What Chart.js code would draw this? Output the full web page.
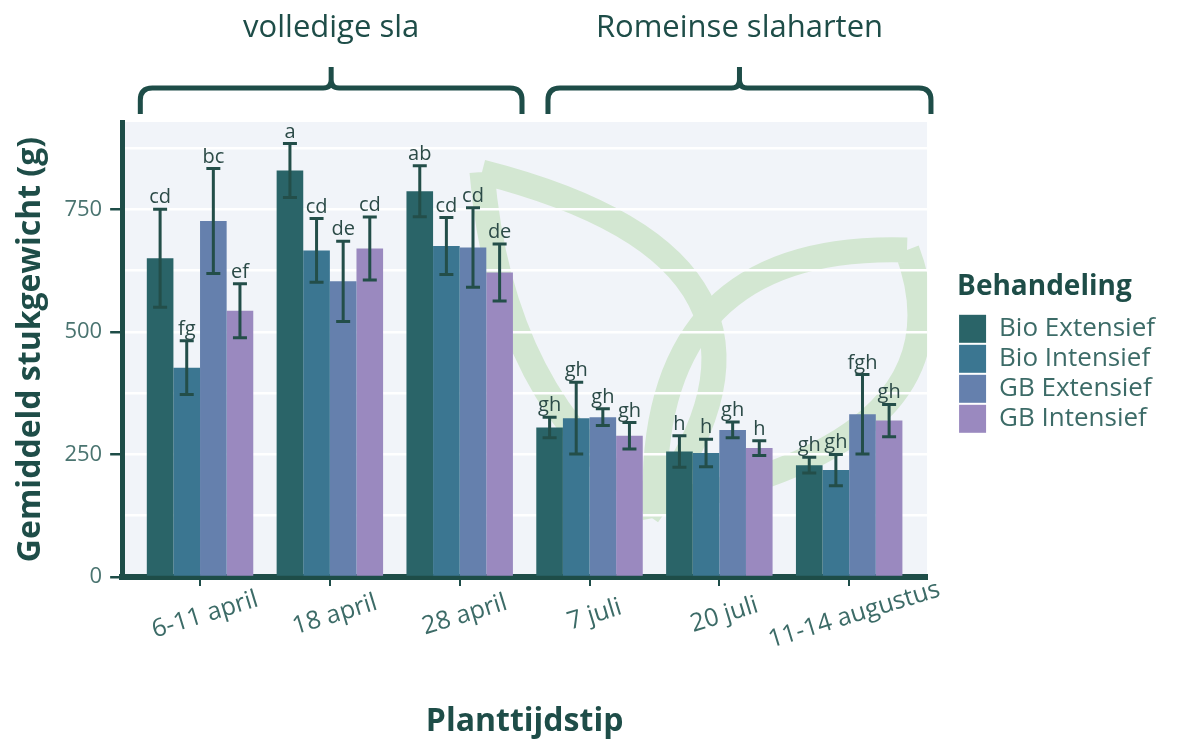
<!DOCTYPE html>
<html>
<head>
<meta charset="utf-8">
<script src="https://cdn.jsdelivr.net/npm/chart.js@4.4.1/dist/chart.umd.min.js"></script>
<style>
  html, body { margin: 0; padding: 0; background: #ffffff; }
  #wrap { width: 1189px; height: 742px; position: relative; }
</style>
</head>
<body>
<div id="wrap"><canvas id="graphStukgewicht"></canvas></div>
<script>
// data gelezen uit de figuur
const plantDates = ['6-11 april', '18 april', '28 april', '7 juli', '20 juli', '11-14 augustus'];
const treatments = ['Bio Extensief', 'Bio Intensief', 'GB Extensief', 'GB Intensief'];

const bioExtensief    = [650, 829, 787, 305, 256, 228];
const bioExtensiefErr = [100, 55, 52, 21, 32, 16];
const bioExtensiefLet = ['cd', 'a', 'ab', 'gh', 'h', 'gh'];

const bioIntensief    = [427, 666, 675, 324, 253, 218];
const bioIntensiefErr = [55, 65, 58, 73, 28, 32];
const bioIntensiefLet = ['fg', 'cd', 'cd', 'gh', 'h', 'gh'];

const gbExtensief     = [726, 603, 672, 326, 300, 332];
const gbExtensiefErr  = [107, 82, 81, 17, 16, 81];
const gbExtensiefLet  = ['bc', 'de', 'cd', 'gh', 'gh', 'fgh'];

const gbIntensief     = [543, 670, 621, 288, 263, 319];
const gbIntensiefErr  = [55, 64, 58, 27, 15, 33];
const gbIntensiefLet  = ['ef', 'cd', 'de', 'gh', 'h', 'gh'];

const yTicks = [0, 250, 500, 750];
const groupLabels = ['volledige sla', 'Romeinse slaharten'];
const groupSpans = [[0.54, 3.48], [3.68, 6.63]];   // in categorie-eenheden

const colors = { bioExt: '#2a6468', bioInt: '#3b7691', gbExt: '#6580ad', gbInt: '#9a89bf' };
const dark = '#1e4d48';
const FONT = "'Open Sans', 'DejaVu Sans', sans-serif";

function toPoints(values) {
    return values.map((v, i) => ({ x: i + 1, y: v }));
}

const datasets = [
    { label: treatments[0], data: toPoints(bioExtensief), backgroundColor: colors.bioExt, err: bioExtensiefErr, letters: bioExtensiefLet },
    { label: treatments[1], data: toPoints(bioIntensief), backgroundColor: colors.bioInt, err: bioIntensiefErr, letters: bioIntensiefLet },
    { label: treatments[2], data: toPoints(gbExtensief), backgroundColor: colors.gbExt, err: gbExtensiefErr, letters: gbExtensiefLet },
    { label: treatments[3], data: toPoints(gbIntensief), backgroundColor: colors.gbInt, err: gbIntensiefErr, letters: gbIntensiefLet },
].map(d => Object.assign(d, { borderWidth: 0, categoryPercentage: 0.82, barPercentage: 1 }));

// paneel achtergrond + logo in watermerk
const panelPlugin = {
    id: 'panel',
    beforeDraw(chart) {
        const { ctx, chartArea: a } = chart;
        ctx.save();
        ctx.fillStyle = '#f1f4f9';
        ctx.fillRect(a.left, a.top, a.right - a.left, a.bottom - a.top);
        ctx.beginPath();
        ctx.rect(a.left, a.top, a.right - a.left, a.bottom - a.top);
        ctx.clip();
        ctx.strokeStyle = '#d3e7d2';
        ctx.lineWidth = 25;
        ctx.lineJoin = 'miter';
        // linker blad
        ctx.beginPath();
        ctx.moveTo(482, 172);
        ctx.quadraticCurveTo(831, 261, 655, 505);
        ctx.quadraticCurveTo(501, 401, 482, 172);
        ctx.stroke();
        // rechter blad
        ctx.beginPath();
        ctx.moveTo(907, 250);
        ctx.quadraticCurveTo(979, 442, 655, 505);
        ctx.quadraticCurveTo(649, 242, 907, 250);
        ctx.stroke();
        ctx.restore();
    }
};

// foutbalken en letters
const errorBarPlugin = {
    id: 'errorBars',
    afterDatasetsDraw(chart) {
        const { ctx } = chart;
        const y = chart.scales.y;
        ctx.save();
        chart.data.datasets.forEach((ds, di) => {
            const meta = chart.getDatasetMeta(di);
            meta.data.forEach((bar, i) => {
                const v = ds.data[i].y, e = ds.err[i];
                const yTop = y.getPixelForValue(v + e);
                const yBot = y.getPixelForValue(v - e);
                ctx.strokeStyle = '#234e49';
                ctx.lineWidth = 3;
                ctx.beginPath();
                ctx.moveTo(bar.x, yTop); ctx.lineTo(bar.x, yBot);
                ctx.moveTo(bar.x - 7, yTop); ctx.lineTo(bar.x + 7, yTop);
                ctx.moveTo(bar.x - 7, yBot); ctx.lineTo(bar.x + 7, yBot);
                ctx.stroke();
                ctx.fillStyle = '#2b4a47';
                ctx.font = '20px ' + FONT;
                ctx.textAlign = 'center';
                ctx.textBaseline = 'alphabetic';
                ctx.fillText(ds.letters[i], bar.x, yTop - 6);
            });
        });
        ctx.restore();
    }
};

function drawBrace(ctx, x1, x2, yLine, yEnd, yPeak) {
    const xm = (x1 + x2) / 2, r = 12, r2 = 8;
    ctx.beginPath();
    ctx.moveTo(x1, yEnd);
    ctx.lineTo(x1, yLine + r);
    ctx.quadraticCurveTo(x1, yLine, x1 + r, yLine);
    ctx.lineTo(xm - r2, yLine);
    ctx.quadraticCurveTo(xm, yLine, xm, yLine - r2);
    ctx.lineTo(xm, yPeak);
    ctx.moveTo(x2, yEnd);
    ctx.lineTo(x2, yLine + r);
    ctx.quadraticCurveTo(x2, yLine, x2 - r, yLine);
    ctx.lineTo(xm + r2, yLine);
    ctx.quadraticCurveTo(xm, yLine, xm, yLine - r2);
    ctx.stroke();
}

// x-labels, accolades en titels
const annotationPlugin = {
    id: 'annotations',
    afterDraw(chart) {
        const { ctx, chartArea: a } = chart;
        const x = chart.scales.x;
        ctx.save();
        ctx.fillStyle = '#3c6b67';
        ctx.font = '25px ' + FONT;
        ctx.textAlign = 'center';
        ctx.textBaseline = 'middle';
        plantDates.forEach((lab, i) => {
            const px = x.getPixelForValue(i + 1);
            ctx.save();
            ctx.translate(px + 5, a.bottom + 38);
            ctx.rotate(-17 * Math.PI / 180);
            ctx.fillText(lab, 0, 0);
            ctx.restore();
        });

        ctx.fillStyle = dark;
        ctx.font = 'bold 32px ' + FONT;
        ctx.fillText('Planttijdstip', (a.left + a.right) / 2, 722);

        ctx.strokeStyle = dark;
        ctx.lineWidth = 5;
        ctx.lineJoin = 'round';
        ctx.font = '31px ' + FONT;
        groupSpans.forEach((span, i) => {
            const x1 = x.getPixelForValue(span[0]);
            const x2 = x.getPixelForValue(span[1]);
            drawBrace(ctx, x1, x2, 88, 114, 67);
            ctx.fillText(groupLabels[i], (x1 + x2) / 2, 28);
        });
        ctx.restore();
    }
};

// legende iets naar rechts schuiven
const legendShift = {
    id: 'legendShift',
    afterLayout(chart) {
        if (chart.legend) {
            chart.legend.left += 30;
            chart.legend.right += 30;
        }
    }
};

new Chart(document.getElementById('graphStukgewicht'), {
    type: 'bar',
    data: { datasets: datasets },
    plugins: [panelPlugin, errorBarPlugin, annotationPlugin, legendShift],
    options: {
        responsive: true,
        maintainAspectRatio: false,
        animation: false,
        layout: { padding: { top: 122, left: 12, right: 54, bottom: 156 } },
        plugins: {
            tooltip: { enabled: false },
            legend: {
                position: 'right',
                align: 'center',
                title: {
                    display: true,
                    text: 'Behandeling',
                    position: 'start',
                    color: dark,
                    font: { family: FONT, size: 28, weight: 'bold' },
                    padding: { top: 0, bottom: 6 }
                },
                labels: {
                    boxWidth: 27,
                    boxHeight: 28,
                    padding: 2,
                    color: '#3c6b67',
                    font: { family: FONT, size: 26 }
                }
            }
        },
        scales: {
            x: {
                type: 'linear',
                min: 0.4,
                max: 6.6,
                offset: false,
                z: 1,
                afterBuildTicks: (scale) => { scale.ticks = plantDates.map((d, i) => ({ value: i + 1 })); },
                ticks: { display: false },
                grid: { offset: false, drawOnChartArea: false, drawTicks: true, tickLength: 9, tickColor: dark, lineWidth: 2 },
                border: { display: true, color: dark, width: 6 }
            },
            y: {
                min: 0,
                max: 928,
                afterBuildTicks: (scale) => {
                    scale.ticks = [];
                    for (let v = 0; v <= 875; v += 125) scale.ticks.push({ value: v });
                },
                ticks: {
                    color: '#4a7470',
                    padding: 8,
                    font: { family: FONT, size: 22 },
                    callback: (v) => yTicks.includes(v) ? String(v) : ''
                },
                grid: {
                    color: '#ffffff',
                    lineWidth: 2.5,
                    tickLength: 12,
                    tickColor: (c) => (c.tick && yTicks.includes(c.tick.value)) ? dark : 'rgba(0,0,0,0)'
                },
                border: { display: true, color: dark, width: 5 },
                title: {
                    display: true,
                    text: 'Gemiddeld stukgewicht (g)',
                    color: dark,
                    font: { family: FONT, size: 32, weight: 'bold' },
                    padding: { top: 0, bottom: 6 }
                }
            }
        }
    }
});
</script>
</body>
</html>
